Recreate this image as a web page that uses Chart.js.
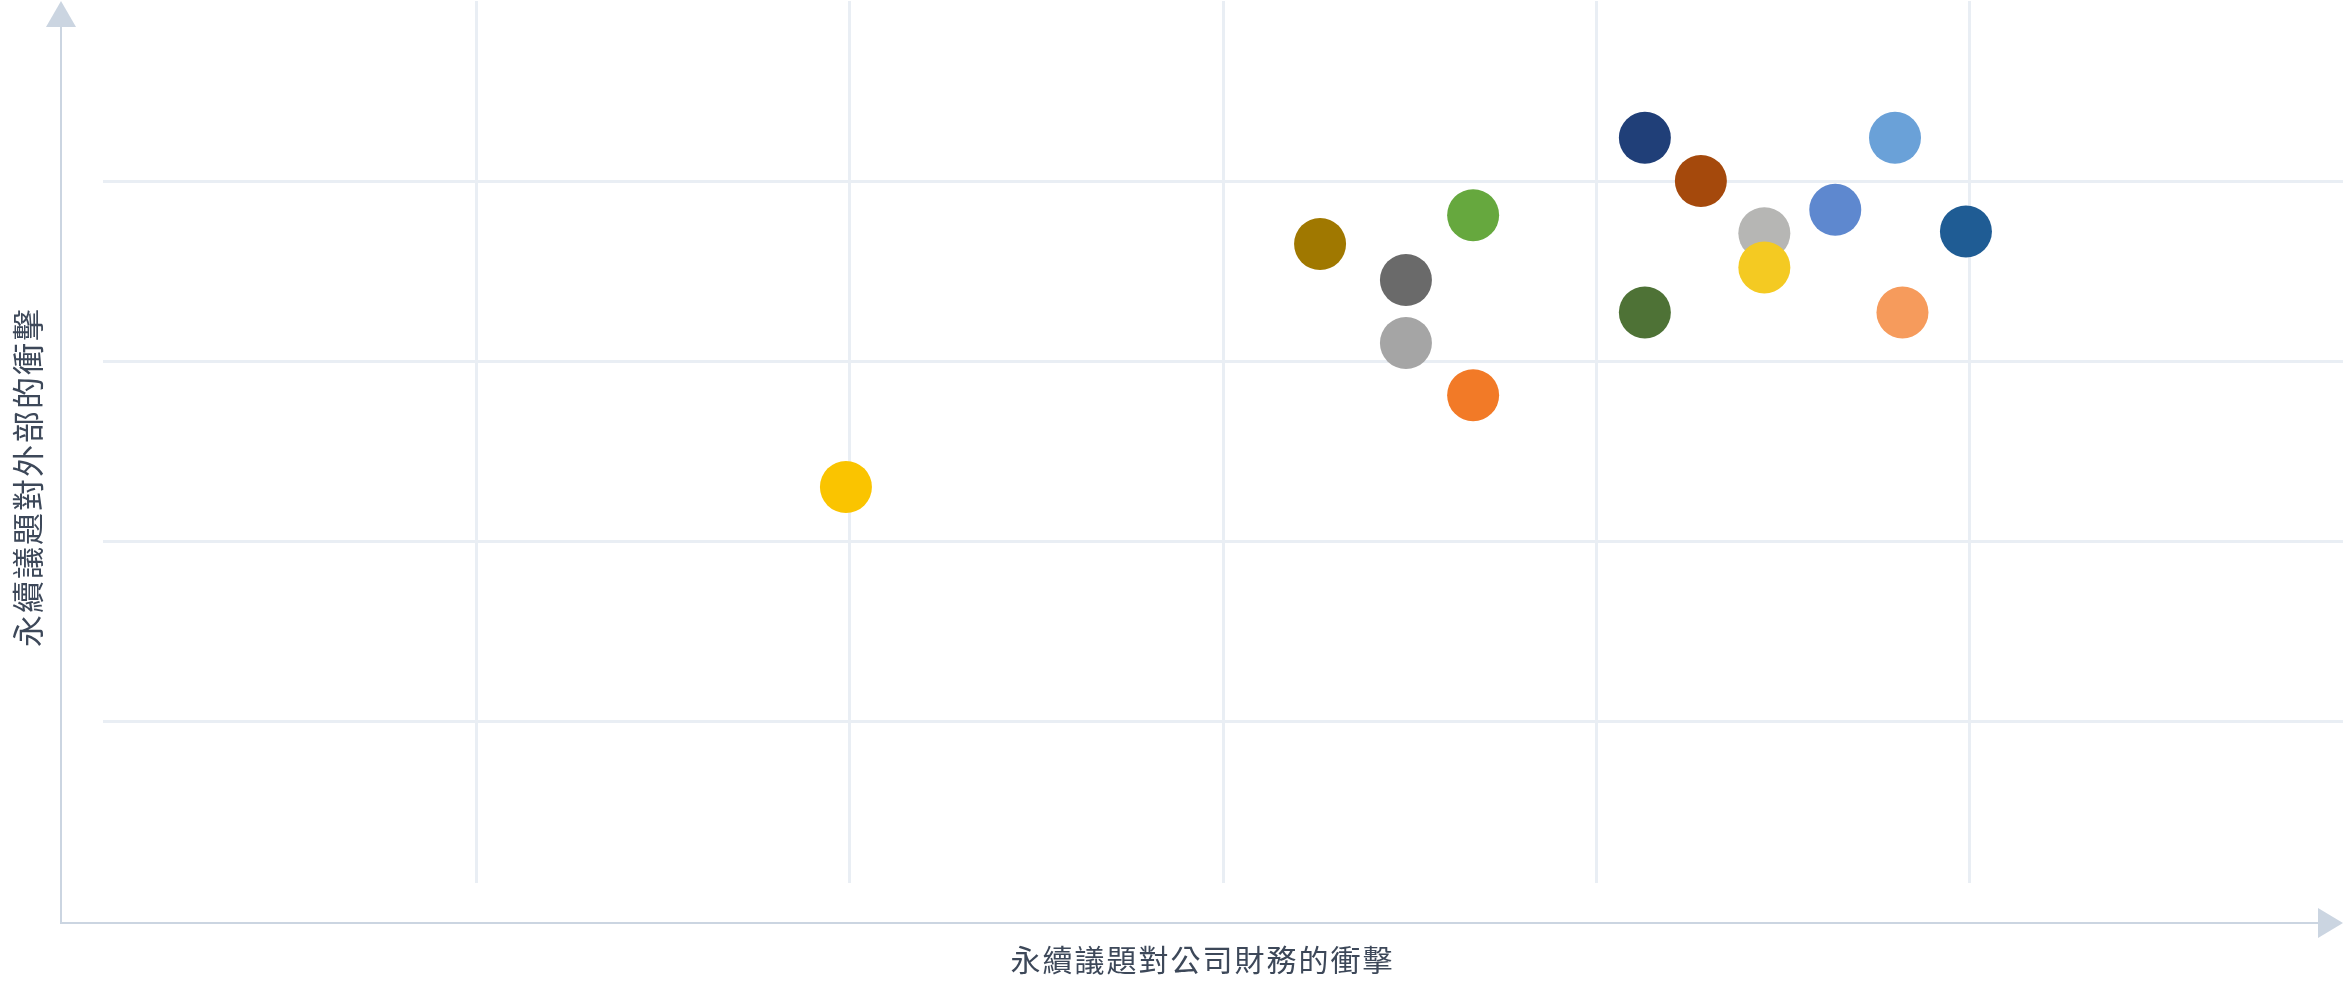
<!DOCTYPE html>
<html lang="zh-Hant">
<head>
  <meta charset="UTF-8">
  <title>永續議題重大性矩陣</title>
  <script src="https://cdn.jsdelivr.net/npm/chart.js"></script>
  <style>
    html, body { margin: 0; padding: 0; background: #fff; overflow: hidden; }
    .chart-container { width: 2344px; height: 981px; position: relative; }
  </style>
</head>
<body>
  <div class="chart-container">
    <canvas id="matrixChart"></canvas>
  </div>

<script>
// financial impact (x) / external impact (y) of each issue
const xValues = [1.99, 3.26, 3.49, 3.49, 3.67, 3.67, 4.13, 4.13, 4.28, 4.45, 4.45, 4.64, 4.80, 4.82, 4.99];
const yValues = [2.30, 3.65, 3.45, 3.10, 3.81, 2.81, 4.24, 3.27, 4.00, 3.71, 3.52, 3.84, 4.24, 3.27, 3.72];
const pointColors = ['#fac400', '#a07800', '#6a6a6a', '#a5a5a5', '#66a83e', '#f27a27', '#203f78', '#4e7236',
                     '#a5490c', '#b6b6b4', '#f4ca22', '#5e88cf', '#6aa1d8', '#f69b5c', '#1f5c94'];
const xGridTicks = [1, 2, 3, 4, 5];
const yGridTicks = [1, 2, 3, 4];
const xTitle = '永續議題對公司財務的衝擊';
const yTitle = '永續議題對外部的衝擊';

const axisColor = '#cbd5e1';
const gridColor = '#e9eef4';
const fontFamily = '"Noto Sans CJK TC", "Noto Sans", sans-serif';

// axis lines with arrow heads + axis titles
const arrowAxes = {
  id: 'arrowAxes',
  afterDraw(chart) {
    const ctx = chart.ctx;
    const area = chart.chartArea;
    const ox = area.left - 42;
    const oy = area.bottom + 40;
    ctx.save();
    ctx.strokeStyle = axisColor;
    ctx.fillStyle = axisColor;
    ctx.lineWidth = 2;
    ctx.beginPath();
    ctx.moveTo(ox, 26);
    ctx.lineTo(ox, oy);
    ctx.lineTo(chart.width - 26, oy);
    ctx.stroke();
    // top arrow
    ctx.beginPath();
    ctx.moveTo(ox, 1);
    ctx.lineTo(ox - 15, 27);
    ctx.lineTo(ox + 15, 27);
    ctx.closePath();
    ctx.fill();
    // right arrow
    ctx.beginPath();
    ctx.moveTo(chart.width - 1, oy);
    ctx.lineTo(chart.width - 26, oy - 15);
    ctx.lineTo(chart.width - 26, oy + 15);
    ctx.closePath();
    ctx.fill();

    ctx.fillStyle = '#3d4859';
    ctx.textAlign = 'center';
    ctx.textBaseline = 'middle';
    ctx.font = '30px ' + fontFamily;
    ctx.letterSpacing = '2px';
    ctx.fillText(xTitle, (ox + chart.width) / 2, oy + 37);
    ctx.translate(ox - 33, 477);
    ctx.rotate(-Math.PI / 2);
    ctx.font = '32px ' + fontFamily;
    ctx.letterSpacing = '2px';
    ctx.fillText(yTitle, 0, 0);
    ctx.restore();
  }
};

new Chart(document.getElementById('matrixChart'), {
  type: 'scatter',
  data: {
    datasets: [{
      data: xValues.map((x, i) => ({ x: x, y: yValues[i] })),
      backgroundColor: pointColors,
      borderWidth: 0,
      pointRadius: 26,
      pointHoverRadius: 26
    }]
  },
  options: {
    responsive: true,
    maintainAspectRatio: false,
    animation: false,
    layout: { autoPadding: false, padding: { left: 103, right: 1, top: 1, bottom: 98 } },
    plugins: {
      legend: { display: false },
      tooltip: { enabled: false }
    },
    scales: {
      x: {
        type: 'linear',
        min: 0,
        max: 6,
        border: { display: false },
        grid: { color: gridColor, lineWidth: 3, drawTicks: false },
        ticks: { display: false },
        afterBuildTicks: s => { s.ticks = xGridTicks.map(v => ({ value: v })); }
      },
      y: {
        type: 'linear',
        min: 0.1,
        max: 5,
        border: { display: false },
        grid: { color: gridColor, lineWidth: 3, drawTicks: false },
        ticks: { display: false },
        afterBuildTicks: s => { s.ticks = yGridTicks.map(v => ({ value: v })); }
      }
    }
  },
  plugins: [arrowAxes]
});
</script>
</body>
</html>
